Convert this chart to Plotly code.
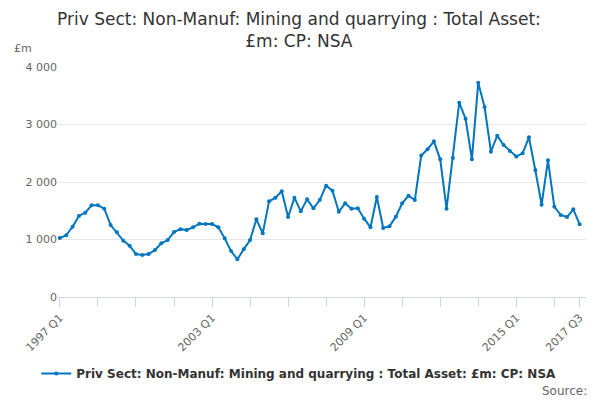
import plotly.graph_objects as go

# quarters 1997 Q1 .. 2017 Q3
quarters = [f"{y} Q{q}" for y in range(1997, 2018) for q in range(1, 5)][:83]

total_assets = [
    1026, 1073, 1223, 1409, 1467, 1594, 1594, 1536, 1252, 1125,
    980, 893, 748, 730, 748, 817, 933, 991, 1130, 1180,
    1165, 1212, 1275, 1270, 1270, 1212, 1020, 800, 655, 829,
    991, 1351, 1107, 1664, 1727, 1838, 1391, 1727, 1490, 1699,
    1542, 1687, 1936, 1849, 1484, 1629, 1536, 1542, 1362, 1212,
    1739, 1200, 1229, 1397, 1629, 1762, 1687,
    2460, 2570, 2707, 2394, 1536, 2417, 3380, 3101, 2394, 3727,
    3304, 2527, 2806, 2643, 2539, 2445,
    2499, 2777, 2209, 1606, 2377, 1571, 1426, 1391, 1525, 1264,
]

label_ticks = ["1997 Q1", "2003 Q1", "2009 Q1", "2015 Q1", "2017 Q3"]
tick_vals = quarters[::6] + [quarters[-1]]
tick_text = [q if q in label_ticks else "" for q in tick_vals]

series_name = "Priv Sect: Non-Manuf: Mining and quarrying : Total Asset: £m: CP: NSA"

fig = go.Figure(go.Scatter(
    x=quarters, y=total_assets,
    mode="lines+markers",
    name="<b>" + series_name + "</b>",
    line=dict(color="#0076bf", width=2),
    marker=dict(size=4, color="#0076bf"),
))

# page has an 8px body margin, so the figure is a bit smaller than the window
fig.update_layout(
    width=592, height=392,
    margin=dict(l=50, r=14, t=59, b=103),
    paper_bgcolor="white", plot_bgcolor="white",
    font=dict(family="DejaVu Sans", color="#666666", size=11),
    separators=". ",
    showlegend=True,
    legend=dict(orientation="h", x=0.456, xanchor="center", y=-0.27, yanchor="top",
                font=dict(size=12, color="#333333")),
    xaxis=dict(type="category", range=[-0.3, 83.0], automargin=False,
               tickmode="array", tickvals=tick_vals, ticktext=tick_text,
               tickangle=-45, ticks="outside", ticklen=9, tickcolor="#ccd6eb",
               showline=True, linecolor="#ccd6eb", linewidth=1,
               showgrid=False, zeroline=False),
    yaxis=dict(range=[0, 4000], tickvals=[0, 1000, 2000, 3000, 4000],
               tickformat=",d", showgrid=True, gridcolor="#e6e6e6",
               zeroline=False, showline=False, ticks="", automargin=False),
    annotations=[
        dict(text="Priv Sect: Non-Manuf: Mining and quarrying : Total Asset:<br>£m: CP: NSA",
             xref="paper", yref="paper", x=0.456, y=1.06,
             xanchor="center", yanchor="bottom", showarrow=False,
             font=dict(size=17, color="#333333")),
        dict(text="£m", xref="paper", yref="paper", x=-0.087, y=1.043,
             xanchor="left", yanchor="bottom", showarrow=False,
             font=dict(size=11, color="#666666")),
        dict(text="Source:", xref="paper", yref="paper", x=1.005, y=-0.37,
             xanchor="right", yanchor="top", showarrow=False,
             font=dict(size=12, color="#666666")),
    ],
)

fig.write_html("out.html")
